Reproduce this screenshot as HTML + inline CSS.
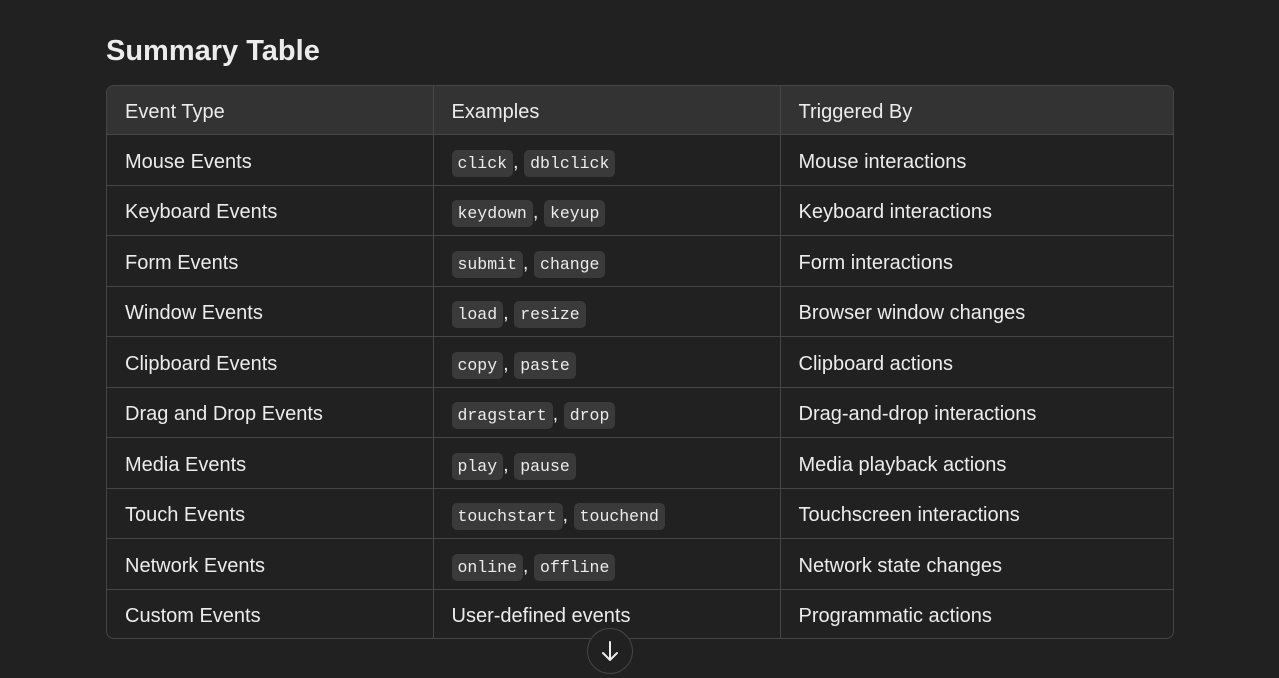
<!DOCTYPE html>
<html><head><meta charset="utf-8"><style>
html,body{margin:0;padding:0;background:#212121;width:1279px;height:676px;overflow:hidden;font-family:"Liberation Sans","DejaVu Sans",sans-serif;color:#ececec}
h2{position:absolute;left:106px;top:31px;margin:0;font-size:29px;font-weight:bold;line-height:40px}
.wrap{position:absolute;left:106px;top:85px;width:1066px;border:1px solid #464646;border-radius:8px;overflow:hidden}
table{border-collapse:collapse;width:100%;table-layout:fixed}
td,th{border-right:1px solid #464646;border-bottom:1px solid #464646;padding:4px 0 0 18px;text-align:left;font-size:20px;font-weight:normal;height:50px;box-sizing:border-box}
th{background:#333;height:48.5px}
tr.b td{height:51px}
td:last-child,th:last-child{border-right:none}
tr:last-child td{border-bottom:none;height:48px;padding-top:6px}
code{font-family:"Liberation Mono","DejaVu Sans Mono",monospace;font-size:16.5px;background:#3a3a3a;border-radius:5px;padding:4px 6px}
.btn{position:absolute;left:587px;top:628px;width:46px;height:46px;border-radius:50%;border:1px solid #444;background:#212121;box-sizing:border-box}
</style></head><body>
<h2>Summary Table</h2>
<div class="wrap"><table>
<colgroup><col style="width:326px"><col style="width:347px"><col></colgroup>
<tr><th>Event Type</th><th>Examples</th><th>Triggered By</th></tr>
<tr class="b"><td>Mouse Events</td><td><code>click</code>, <code>dblclick</code></td><td>Mouse interactions</td></tr>
<tr><td>Keyboard Events</td><td><code>keydown</code>, <code>keyup</code></td><td>Keyboard interactions</td></tr>
<tr class="b"><td>Form Events</td><td><code>submit</code>, <code>change</code></td><td>Form interactions</td></tr>
<tr><td>Window Events</td><td><code>load</code>, <code>resize</code></td><td>Browser window changes</td></tr>
<tr class="b"><td>Clipboard Events</td><td><code>copy</code>, <code>paste</code></td><td>Clipboard actions</td></tr>
<tr><td>Drag and Drop Events</td><td><code>dragstart</code>, <code>drop</code></td><td>Drag-and-drop interactions</td></tr>
<tr class="b"><td>Media Events</td><td><code>play</code>, <code>pause</code></td><td>Media playback actions</td></tr>
<tr><td>Touch Events</td><td><code>touchstart</code>, <code>touchend</code></td><td>Touchscreen interactions</td></tr>
<tr class="b"><td>Network Events</td><td><code>online</code>, <code>offline</code></td><td>Network state changes</td></tr>
<tr><td>Custom Events</td><td>User-defined events</td><td>Programmatic actions</td></tr>
</table></div>
<div class="btn"><svg width="44" height="44" viewBox="0 0 44 44"><path d="M22 13v18M15 24l7 7 7-7" stroke="#ececec" stroke-width="2" fill="none" stroke-linecap="round" stroke-linejoin="round"/></svg></div>
</body></html>
